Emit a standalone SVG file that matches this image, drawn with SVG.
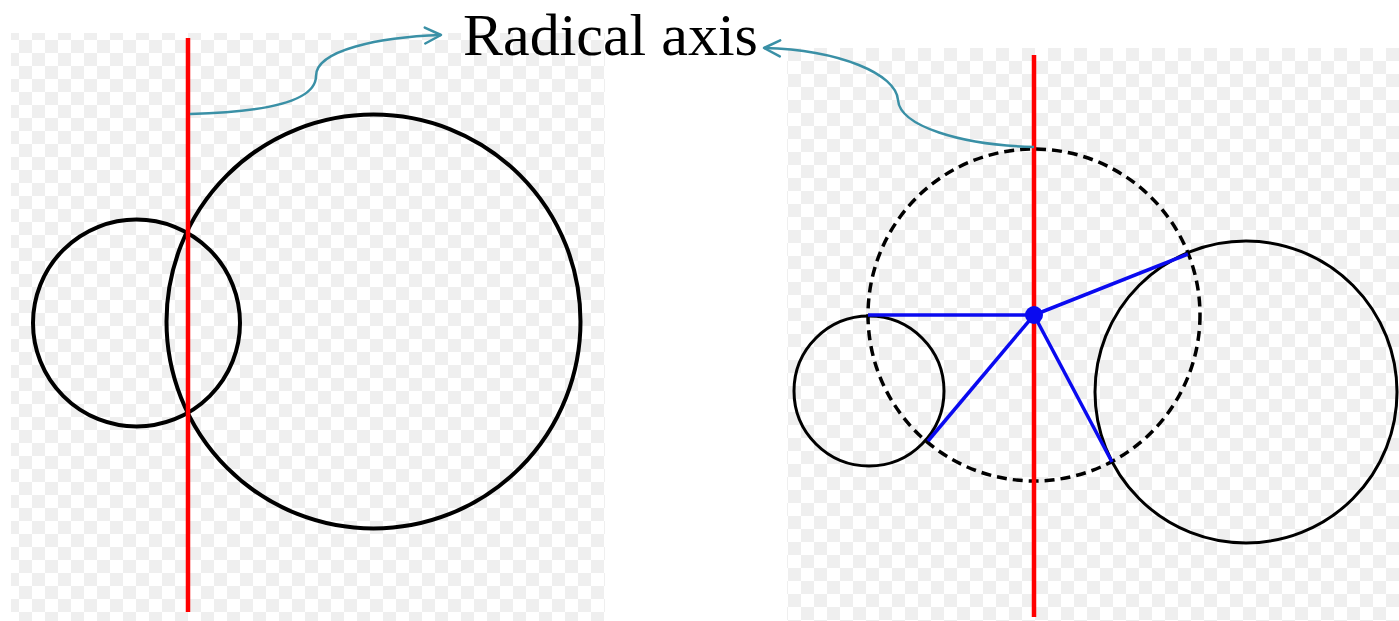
<svg xmlns="http://www.w3.org/2000/svg" width="1399" height="621" viewBox="0 0 1399 621">
  <defs>
    <pattern id="checkL" x="6" y="27" width="26" height="26" patternUnits="userSpaceOnUse">
      <rect width="26" height="26" fill="#ffffff"/>
      <rect x="0" y="0" width="13" height="13" fill="#efefef"/>
      <rect x="13" y="13" width="13" height="13" fill="#efefef"/>
    </pattern>
    <pattern id="checkR" x="788" y="48" width="26" height="26" patternUnits="userSpaceOnUse">
      <rect width="26" height="26" fill="#ffffff"/>
      <rect x="0" y="0" width="13" height="13" fill="#efefef"/>
      <rect x="13" y="13" width="13" height="13" fill="#efefef"/>
    </pattern>
    <marker id="chev" viewBox="0 0 20 20" refX="18" refY="10" markerWidth="20" markerHeight="20" markerUnits="userSpaceOnUse" orient="auto">
      <path d="M2,2 L18,10 L2,18" fill="none" stroke="#3A90A6" stroke-width="2.5" stroke-linecap="round" stroke-linejoin="round"/>
    </marker>
    <style>
      .red { stroke: #ff0000; stroke-width: 4.5; fill: none; }
      .circ { stroke: #000000; fill: none; }
      .blue { stroke: #0a0af0; stroke-width: 3.5; fill: none; }
      .lead { stroke: #3A90A6; stroke-width: 2.5; fill: none; marker-end: url(#chev); }
      .label { font-family: "Liberation Serif", "Times New Roman", serif; font-size: 60px; fill: #000000; }
    </style>
  </defs>
  <rect width="1399" height="621" fill="#ffffff"/>

  <g id="panel-left">
    <rect x="11" y="33" width="594" height="588" fill="url(#checkL)"/>
    <circle id="left-small-circle" class="circ" cx="136.5" cy="323" r="103.5" stroke-width="4"/>
    <circle id="left-big-circle" class="circ" cx="373.5" cy="321.5" r="207" stroke-width="4"/>
    <line id="left-radical-axis" class="red" x1="188" y1="38" x2="188" y2="612"/>
  </g>

  <g id="panel-right">
    <rect x="787" y="48" width="612" height="573" fill="url(#checkR)"/>
    <circle id="right-dashed-circle" class="circ" cx="1034" cy="315" r="166" stroke-width="3.5" stroke-dasharray="10 6"/>
    <circle id="right-small-circle" class="circ" cx="869" cy="391" r="75" stroke-width="3"/>
    <circle id="right-big-circle" class="circ" cx="1246" cy="392" r="151" stroke-width="3"/>
    <line id="right-radical-axis" class="red" x1="1034" y1="55" x2="1034" y2="617" stroke-width="3.5"/>
    <g id="tangents">
      <line class="blue" x1="1034" y1="315" x2="868" y2="315"/>
      <line class="blue" x1="1034" y1="315" x2="928" y2="441"/>
      <line class="blue" x1="1034" y1="315" x2="1188" y2="254"/>
      <line class="blue" x1="1034" y1="315" x2="1112" y2="462"/>
    </g>
    <circle id="center-point" cx="1034" cy="315" r="9" fill="#0a0af0"/>
  </g>

  <g id="label-node">
    <text class="label" x="463" y="55">Radical axis</text>
  </g>

  <g id="connectors">
    <path class="lead" d="M190,114 C270,112 316,100 316,76 C316,50 380,37 441,35"/>
    <path class="lead" d="M1034,147 C960,145 900,126 898,100 C896,74 840,50 764,48"/>
  </g>
</svg>
